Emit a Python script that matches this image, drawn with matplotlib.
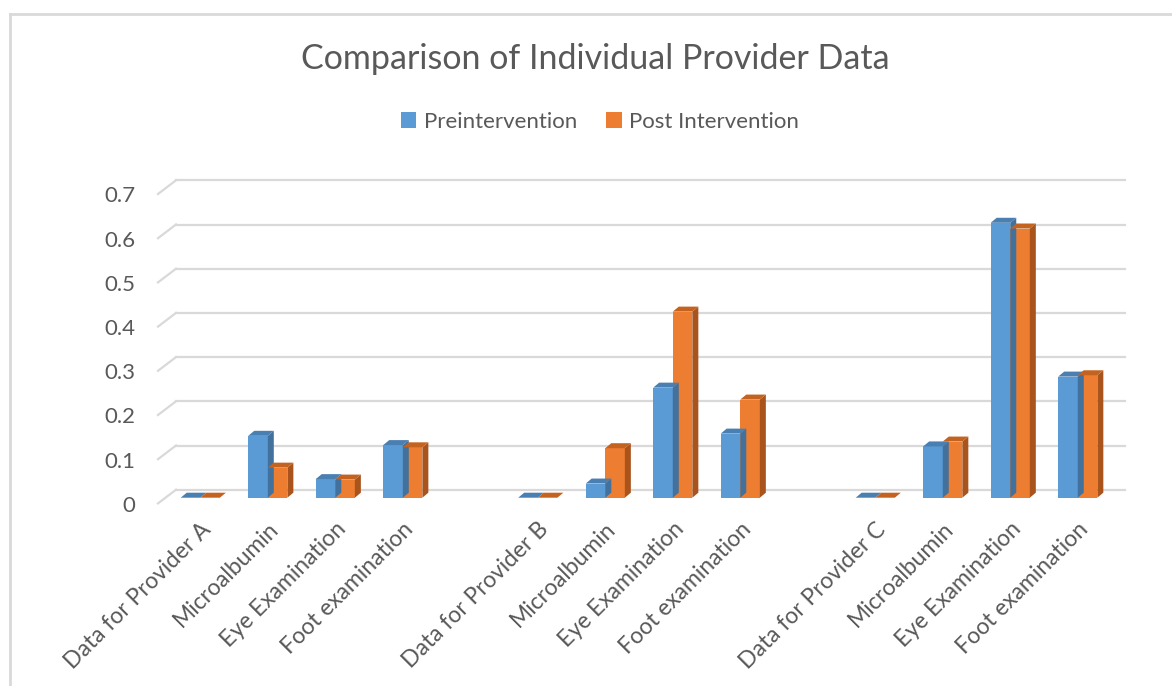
import matplotlib
matplotlib.use("Agg")
import matplotlib.pyplot as plt
from matplotlib.patches import Polygon, Patch
from matplotlib.lines import Line2D
from matplotlib.transforms import ScaledTranslation

# chart data
categories = [
    "Data for Provider A", "Microalbumin", "Eye Examination", "Foot examination", "",
    "Data for Provider B", "Microalbumin", "Eye Examination", "Foot examination", "",
    "Data for Provider C", "Microalbumin", "Eye Examination", "Foot examination",
]
pre = [0, 0.140, 0.042, 0.119, None,
       0, 0.032, 0.249, 0.145, None,
       0, 0.116, 0.622, 0.274]
post = [0, 0.068, 0.041, 0.114, None,
        0, 0.112, 0.421, 0.222, None,
        0, 0.127, 0.609, 0.277]
yticks = [0, 0.1, 0.2, 0.3, 0.4, 0.5, 0.6, 0.7]
ytick_labels = ["0", "0.1", "0.2", "0.3", "0.4", "0.5", "0.6", "0.7"]

text_color = "#595959"
grid_color = "#d9d9d9"
blue = ("#5b9bd5", "#41719c", "#4a7fb2")      # front, side, top
orange = ("#ed7d31", "#a9541c", "#c4631f")

plt.rcParams["font.family"] = ["Lato", "DejaVu Sans"]

W, H = 1172, 686
fig = plt.figure(figsize=(W / 100, H / 100), dpi=100)
ax = fig.add_axes([176 / W, (H - 497.7) / H, (1125 - 176) / W, (497.7 - 188.3) / H])
ax.set_xlim(-0.36, 13.70)
ax.set_ylim(0, 0.7)
for s in ax.spines.values():
    s.set_visible(False)


def px(dx, dy):
    return ScaledTranslation(dx / 100, dy / 100, fig.dpi_scale_trans)


# back-wall gridlines plus the short floor diagonal on the left
ytr = ax.get_yaxis_transform()
for v in yticks:
    ax.add_line(Line2D([0, 1], [v, v], transform=ytr + px(0, 8), color=grid_color,
                       lw=1.6, clip_on=False, zorder=1))
    p0 = ax.transData.transform((ax.get_xlim()[0], v))
    fig.add_artist(Line2D([p0[0] - 18, p0[0]], [p0[1] - 5.7, p0[1] + 8], transform=None,
                          color=grid_color, lw=1.6, zorder=1))

# 3d-looking bars
bw = 0.29
ddx, ddy = 6, 5   # depth in pixels


def bar3d(x, h, cols):
    ax.bar(x, h, width=bw, color=cols[0], zorder=3, linewidth=0)
    x0, x1 = x - bw / 2, x + bw / 2
    a = ax.transData.transform([(x0, h), (x1, h), (x1, 0)])
    side = [(a[1][0], a[2][1]), (a[1][0] + ddx, a[2][1] + ddy),
            (a[1][0] + ddx, a[1][1] + ddy), (a[1][0], a[1][1])]
    top = [(a[0][0], a[0][1]), (a[0][0] + ddx, a[0][1] + ddy),
           (a[1][0] + ddx, a[1][1] + ddy), (a[1][0], a[1][1])]
    if h > 0:
        fig.add_artist(Polygon(side, closed=True, transform=None, facecolor=cols[1],
                               edgecolor="none", zorder=3))
    fig.add_artist(Polygon(top, closed=True, transform=None, facecolor=cols[2],
                           edgecolor="none", zorder=3))


for i in range(len(categories)):
    if pre[i] is None:
        continue
    bar3d(i - bw / 2, pre[i], blue)
    bar3d(i + bw / 2, post[i], orange)

# axis labels
ax.set_yticks(yticks)
ax.set_yticklabels(ytick_labels, fontsize=16, color=text_color)
ax.tick_params(axis="y", length=0, pad=29)
for lab in ax.get_yticklabels():
    lab.set_transform(lab.get_transform() + px(0, -6))

ax.set_xticks(range(len(categories)))
ax.set_xticklabels(categories, rotation=45, ha="right", va="top",
                   rotation_mode="anchor", fontsize=16.5, color=text_color)
ax.tick_params(axis="x", length=0, pad=15)

# title and legend
fig.text(595 / W, 1 - 59 / H, "Comparison of Individual Provider Data",
         ha="center", va="center", fontsize=24.5, color=text_color)
handles = [Patch(facecolor=blue[0], label="Preintervention"),
           Patch(facecolor=orange[0], label="Post Intervention")]
fig.legend(handles=handles, loc="center", bbox_to_anchor=(600 / W, 1 - 122 / H),
           ncol=2, frameon=False, fontsize=16, labelcolor=text_color,
           handlelength=0.7, handleheight=0.7, handletextpad=0.35,
           columnspacing=1.3)

# chart border
fig.add_artist(Line2D([10 / W, 10 / W], [0, 1 - 14 / H], transform=fig.transFigure,
                      color=grid_color, lw=2))
fig.add_artist(Line2D([10 / W, 1], [1 - 14 / H, 1 - 14 / H], transform=fig.transFigure,
                      color=grid_color, lw=2))

fig.savefig("out.png", dpi=100)
